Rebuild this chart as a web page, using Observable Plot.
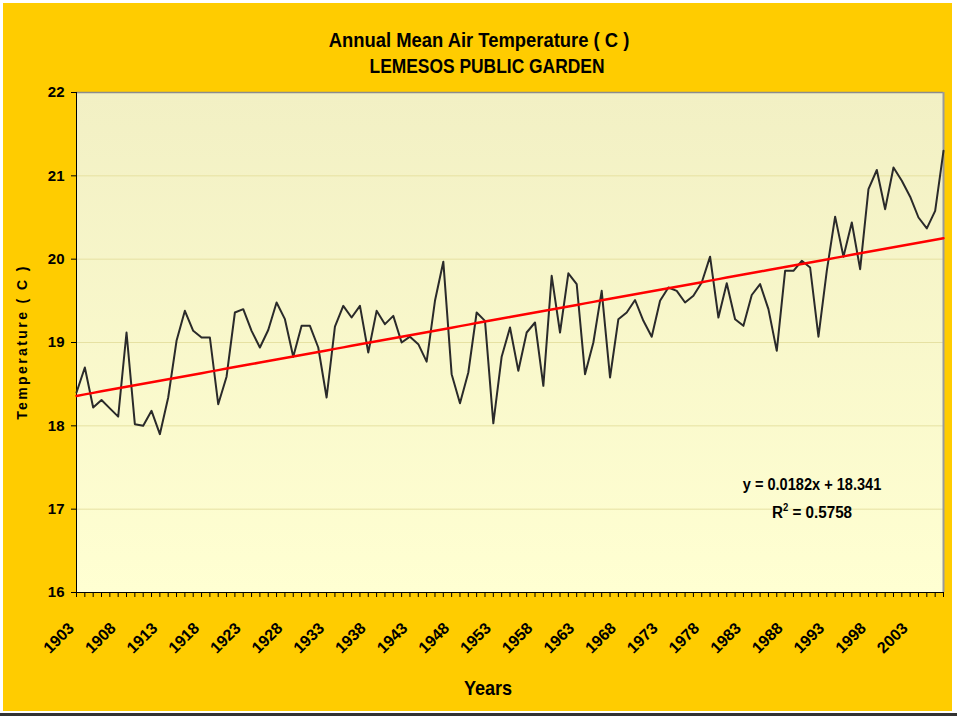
<!DOCTYPE html>
<html>
<head>
<meta charset="utf-8">
<script src="https://cdn.jsdelivr.net/npm/d3@7"></script>
<script src="https://cdn.jsdelivr.net/npm/@observablehq/plot@0.6"></script>
<style>
  html, body { margin: 0; padding: 0; background: #ffffff; }
  #wrap { position: relative; width: 957px; height: 718px; background: #ffffff; overflow: hidden;
          font-family: "Liberation Sans", Arial, sans-serif; }
  #panel { position: absolute; left: 3px; top: 3px; width: 949px; height: 708px; background: #FFCC00; }
  #bottomline { position: absolute; left: 0; top: 713px; width: 957px; height: 3px; background: #333333; }
  .t { position: absolute; font-weight: bold; color: #000; white-space: nowrap; }
  #title1 { left: 479px; top: 40px; font-size: 20px; transform: translate(-50%, -50%) scaleX(0.92); }
  #title2 { left: 487px; top: 66px; font-size: 20px; transform: translate(-50%, -50%) scaleX(0.87); }
  #ylab { left: 22px; top: 342px; font-size: 14px; letter-spacing: 2.4px;
          transform: translate(-50%, -50%) rotate(-90deg); }
  #xlab { left: 488px; top: 688px; transform: translate(-50%, -50%) scaleX(0.86); font-size: 21px; }
  #eq1 { left: 812px; top: 485px; transform: translate(-50%, -50%) scaleX(0.91); font-size: 16px; }
  #eq2 { left: 812px; top: 512px; transform: translate(-50%, -50%) scaleX(0.95); font-size: 16px; }
  #plot { position: absolute; left: 0; top: 0; }
</style>
</head>
<body>
<div id="wrap">
  <div id="panel"></div>
  <div id="bottomline"></div>
  <div id="plot"></div>
  <div class="t" id="title1">Annual Mean Air Temperature ( C )</div>
  <div class="t" id="title2">LEMESOS PUBLIC GARDEN</div>
  <div class="t" id="ylab">Temperature ( C )</div>
  <div class="t" id="xlab">Years</div>
  <div class="t" id="eq1">y = 0.0182x + 18.341</div>
  <div class="t" id="eq2">R<sup style="font-size:10px">2</sup> = 0.5758</div>
</div>
<script>
// Annual mean air temperature, 1903..2007
const startYear = 1903;
const temps = [
  18.40, 18.70, 18.22, 18.31, 18.21, 18.11, 19.12, 18.02, 18.00, 18.18,
  17.90, 18.34, 19.02, 19.38, 19.14, 19.06, 19.06, 18.26, 18.59, 19.36,
  19.40, 19.14, 18.94, 19.15, 19.48, 19.28, 18.83, 19.20, 19.20, 18.94,
  18.34, 19.19, 19.44, 19.30, 19.44, 18.88, 19.38, 19.22, 19.32, 19.00,
  19.07, 18.98, 18.77, 19.50, 19.97, 18.62, 18.27, 18.64, 19.36, 19.26,
  18.03, 18.83, 19.18, 18.66, 19.12, 19.24, 18.48, 19.80, 19.12, 19.83,
  19.70, 18.62, 19.00, 19.62, 18.58, 19.28, 19.36, 19.51, 19.26, 19.07,
  19.50, 19.66, 19.62, 19.48, 19.56, 19.72, 20.03, 19.30, 19.71, 19.28,
  19.20, 19.57, 19.70, 19.40, 18.90, 19.86, 19.86, 19.98, 19.90, 19.07,
  19.86, 20.51, 20.03, 20.44, 19.88, 20.84, 21.07, 20.60, 21.10, 20.94,
  20.75, 20.50, 20.37, 20.58, 21.30
];
const years = temps.map((_, i) => startYear + i);
const labelYears = [1903, 1908, 1913, 1918, 1923, 1928, 1933, 1938, 1943, 1948,
  1953, 1958, 1963, 1968, 1973, 1978, 1983, 1988, 1993, 1998, 2003];
const yTicks = [16, 17, 18, 19, 20, 21, 22];
// Linear trend shown on the chart: y = 0.0182x + 18.341 (x = 1 for first year)
const slope = 0.0182, intercept = 18.341;

const series = years.map((yr, i) => ({year: yr, value: temps[i]}));
const trend = years.map((yr, i) => ({year: yr, value: intercept + slope * (i + 1)}));

const chart = Plot.plot({
  width: 957,
  height: 718,
  marginLeft: 76,
  marginRight: 14,
  marginTop: 92,
  marginBottom: 126,
  style: {background: "transparent", fontFamily: "'Liberation Sans', Arial, sans-serif", fontWeight: "bold", color: "#000"},
  x: {domain: [years[0], years[years.length - 1]], axis: null},
  y: {domain: [yTicks[0], yTicks[yTicks.length - 1]], axis: null},
  marks: [
    Plot.frame({fill: "url(#plotbg)", stroke: "none"}),
    Plot.gridY(yTicks, {stroke: "#E6E1A2", strokeOpacity: 1, strokeWidth: 1}),
    Plot.ruleY([yTicks[yTicks.length - 1]], {stroke: "#8c8c8c", strokeWidth: 1.5}),
    Plot.ruleX([years[years.length - 1]], {stroke: "#9a9a9a", strokeWidth: 2}),
    Plot.axisY({ticks: yTicks, tickSize: 5, tickPadding: 7, tickFormat: d => String(d), fontSize: 15, fontWeight: "bold", label: null, stroke: "#000"}),
    Plot.axisX({ticks: years, tickSize: 5, tickFormat: () => "", label: null, stroke: "#000"}),
    Plot.text(labelYears, {x: d => d, text: d => String(d), frameAnchor: "bottom", dx: -5, dy: 33, rotate: -45,
      textAnchor: "end", lineAnchor: "middle", fontSize: 16, fontWeight: "bold", fill: "#000"}),
    Plot.ruleX([years[0]], {stroke: "#000", strokeWidth: 1}),
    Plot.ruleY([yTicks[0]], {stroke: "#000", strokeWidth: 1}),
    Plot.line(series, {x: "year", y: "value", stroke: "#2a2a2a", strokeWidth: 2}),
    Plot.line(trend, {x: "year", y: "value", stroke: "#FF0000", strokeWidth: 2.5})
  ]
});

// gradient background for the plotting area
const ns = "http://www.w3.org/2000/svg";
const defs = document.createElementNS(ns, "defs");
defs.innerHTML = '<linearGradient id="plotbg" x1="0" y1="0" x2="0" y2="1">' +
  '<stop offset="0" stop-color="#F2F0C4"/><stop offset="1" stop-color="#FFFFD2"/></linearGradient>';
chart.insertBefore(defs, chart.firstChild);
document.getElementById("plot").appendChild(chart);
</script>
</body>
</html>
